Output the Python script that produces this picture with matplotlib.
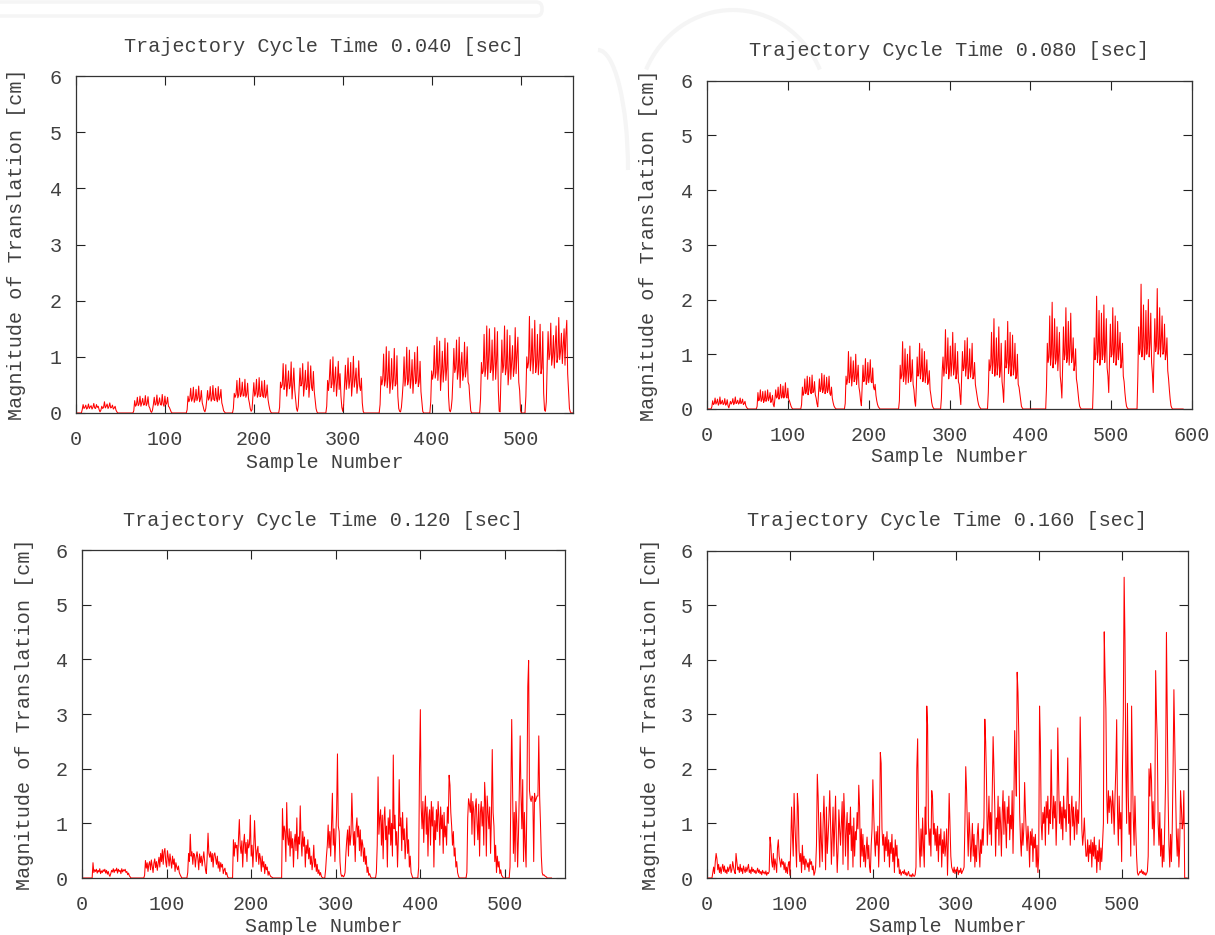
import numpy as np
import matplotlib
matplotlib.use("Agg")
import matplotlib.pyplot as plt
from matplotlib.patches import Arc, FancyBboxPatch

W, H = 1215, 935

TITLES = ["Trajectory Cycle Time 0.040 [sec]", "Trajectory Cycle Time 0.080 [sec]",
          "Trajectory Cycle Time 0.120 [sec]", "Trajectory Cycle Time 0.160 [sec]"]
XLABEL = "Sample Number"
YLABEL = "Magnitude of Translation [cm]"
Y_TICKS = [0, 1, 2, 3, 4, 5, 6]
X_TICKS = [[0, 100, 200, 300, 400, 500], [0, 100, 200, 300, 400, 500, 600],
           [0, 100, 200, 300, 400, 500], [0, 100, 200, 300, 400, 500]]
X_MAX = [559, 600, 571, 580]

# values in hundredths of cm; (first sample number, values)
P1_LEN = 560
P1_BURSTS = [
    (7, [6,15,8,10,14,7,9,16,8,11,13,7,10,17,9,8,15,10,12,6,2, 5,12,8,10,20,9,12,16,8,11,18,9,10,14,7,9,12,5,2]),
    (65, [4,22,12,15,28,13,16,30,12,18,26,14,15,31,13,17,29,12,9,3, 1,5, 15,28,14,16,32,13,18,27,15,14,33,16,12,30,15,17,28,12,10,6,2]),
    (125, [6,30,20,25,44,21,26,46,19,24,42,22,27,48,20,25,40,18,12,5, 2,8, 22,40,23,27,47,21,25,49,24,22,44,26,20,47,23,28,42,18,12,4,2]),
    (177, [8,35,28,33,58,27,32,62,29,34,55,30,31,60,28,33,53,26,18,8,3, 6, 30,54,30,35,60,28,33,63,29,31,57,30,28,58,27,32,50,24,14,6,2]),
    (229, [10,55,45,50,88,42,48,86,30,52,75,43,49,91,25,50,80,42,25,8, 3,12, 45,80,48,52,88,30,50,76,42,47,91,28,53,84,45,40,74,38,22,8,2]),
    (282, [12,58,40,62,95,45,52,100,38,60,82,30,55,92,42,70,30,10, 3,14, 50,85,42,60,98,44,58,90,30,55,101,46,60,80,35,52,93,48,40,62,18,3]),
    (342, [15,65,50,60,105,48,58,118,45,62,110,35,55,97,42,60,115,48,52,102,30,8, 3,2,10,30, 55,100,48,62,117,50,58,112,44,60,95,35,65,108,52,58,118,47,55,92,38,20,3]),
    (399, [20,75,60,70,120,62,72,135,58,85,128,40,70,110,55,78,133,58,80,125,30,5, 2,8,25, 65,115,72,80,130,60,75,135,45,85,108,58,70,126,64,80,118,55,50,25,4]),
    (455, [25,90,70,75,140,65,80,155,60,95,150,72,78,130,58,88,152,60,92,145,40,3, 2, 70,130,72,85,155,68,80,148,50,75,138,60,90,120,65,80,152,70,105,135,55,40,4]),
    (506, [30,100,80,90,172,75,95,150,70,100,165,72,85,140,68,95,158,70,80,145,35,5, 3,20, 90,145,95,105,160,85,100,138,80,120,155,90,100,170,95,110,142,88,120,150,85,140,165,70,40,8,2]),
]

P2_LEN = 590
P2_BURSTS = [
    (6, [4,15,8,10,20,9,12,18,7,10,22,9,12,16,8,10,19,7,9,17,6,2, 8,14,9,12,19,8,11,22,10,12,16,9,11,20,10,12,18,8,10,14,6,3,1]),
    (62, [5,30,15,18,35,14,17,32,12,16,33,14,18,35,15,20,30,12,16,25,8,4, 18,35,20,22,40,18,24,45,20,22,42,20,25,48,22,20,38,18,15,10,5,2]),
    (117, [8,40,25,30,55,28,32,60,26,35,58,30,28,62,30,32,50,26,20,10,4, 30,55,32,36,65,30,35,62,28,33,58,30,36,60,28,25,40,20,12,6,3,1]),
    (171, [10,60,45,55,105,48,58,95,42,60,88,50,55,100,45,60,80,40,30,15,6, 45,80,50,55,92,45,52,85,48,60,90,50,48,75,40,35,45,25,15,8,4,2]),
    (238, [15,80,55,62,123,50,60,110,45,70,100,48,65,115,50,60,90,45,35,15,5, 40,95,60,65,120,55,70,110,50,60,105,48,65,90,45,50,70,35,25,12,5,2]),
    (290, [20,70,95,60,75,145,65,80,130,55,70,115,60,85,140,62,75,120,55,65,105,50,45,25,8, 60,105,70,75,125,60,80,130,55,70,110,58,75,120,55,60,85,45,35,25,15,8,4,2]),
    (348, [30,90,70,80,140,65,85,165,60,75,130,62,80,150,58,70,120,50,35,12, 70,125,75,85,160,65,80,140,60,80,135,62,75,120,55,60,100,45,40,28,15,5,2]),
    (420, [40,120,85,95,170,80,100,195,75,95,165,82,90,150,70,100,140,60,45,20, 80,150,90,100,185,85,95,160,80,110,175,85,95,130,70,80,110,55,45,30,15,5,2]),
    (478, [50,130,90,100,206,85,105,180,80,95,175,90,100,190,85,110,165,75,60,30, 90,155,95,100,185,85,105,170,80,95,160,90,110,140,75,85,120,60,50,30,15,5,2]),
    (533, [60,150,100,110,228,95,115,190,90,105,180,100,115,200,95,120,175,85,65,30, 100,165,105,115,220,100,110,185,95,125,170,100,105,155,90,100,130,70,55,35,18,6,2]),
]

P3_LEN = 556
P3_BURSTS = [
    (13, [28,10,15,12,16,9,14,11,17,8,13,10,15,12,16,9,14,7,12,6,3, 8,14,11,17,10,15,13,18,9,16,12,14,8,17,11,15,13,16,10,12,6,9,4,2]),
    (74, [5,32,18,28,12,25,30,15,33,22,10,27,35,19,30,14,26,38,20,45,30,52,25,48,54,30,20, 50,38,22,44,30,18,40,25,35,12,28,20,15,22,10,6,3]),
    (125, [10,45,30,80,40,48,25,45,42,20,38,48,35,15,44,28,40,22,35,48,30,15,8, 40,82,45,38,48,30,45,20,42,46,35,25,40,18,30,12,28,20,25,8,15,18,6,10,3]),
    (179, [70,40,65,55,60,30,72,107,60,45,68,20,62,80,45,65,30,70,55,62,115,40,60,20,55,105,62,30,50,58,25,45,35,12,40,20,30,8,25,15,20,5,12,6,3,2,1]),
    (237, [127,70,95,85,30,138,75,60,90,40,85,55,72,20,65,80,50,110,35,75,62,132,70,40,85,58,75,20,60,45,70,35,55,25,40,15,30,60,20,35,12,25,8,15,5,10,3,1]),
    (288, [15,40,60,97,55,85,40,95,155,60,90,30,75,120,227,95,85,30,8,3,5,2,4,10,
           45,70,88,40,95,60,80,155,100,60,85,30,90,110,75,95,50,88,40,70,60,30,55,25,40,10,20,5,8,3]),
    (348, [10,60,185,80,110,125,60,115,35,105,130,70,95,20,110,80,125,60,100,40,225,90,115,60,85,20,75,180,95,110,50,120,70,90,35,65,110,45,70,20,40,10,5]),
    (398, [20,200,308,130,90,140,65,120,150,80,130,40,110,125,60,140,95,130,20,105,70,125,85,140,110,60,130,90,115,45,120,75,95,60,130,100,188,170,120,95,60,85,40,55,20,30,10,4]),
    (455, [10,110,145,135,120,155,80,140,125,60,130,145,100,70,135,40,120,140,95,130,60,175,140,40,150,120,90,130,45,110,235,120,95,30,60,10,40,20,30,8,15,5,3]),
    (506, [20,150,290,160,45,120,30,140,100,20,80,160,260,150,90,180,30,120,60,20,150,350,398,160,145,140,150,148,30,155,140,145,150,150,260,150,100,40,10,5,6,4,3,2]),
]

P4_LEN = 580
P4_BURSTS = [
    (7, [10,20,8,30,45,35,15,25,10,20,8,18,25,12,22,10,15,8,20,12,18,25,10,15,30,20,12,8,45,30,15,20,10,25,12,18,8,22,15,10,20,12,18,25,10,15,8,20,12,16,10,14,8,12,18,10,15,8,12,6,14,9,11,7,13,5,10,8,12]),
    (76, [75,60,30,20,45,15,35,25,10,55,70,40,30,20,35,25,30,15,28,10,20,8,25,30]),
    (100, [5,60,130,80,40,155,100,60,20,155,130,50,30,45,10,60,25,40,15,35,30,20,28,12,35,25,30,15,22,5,10]),
    (131, [20,60,190,150,80,20,120,65,30,100,150,90,15,130,45,75,110,160,100,25,80,130,40,95,150,70,10,50,125,90,60,100,140,25,155,110,40,90,120,15,100,80,130,50,95,20,110,40,85,70,120,90,170,130,20,90,
           40,80,30,60,20,50,75,35,60,20]),
    (197, [10,60,90,180,120,70,40,85,60,95,20,70,230,210,90,60,80,30,75,50,85,40,70,20,65,45,80,30,55,10,70,40,60,20,35,8,15,5]),
    (235, [10,12,8,15,6,10,4,8,12,5,3,6,2,8,4,3,6]),
    (252, [20,200,255,120,60,20,90,40,110,60,20,130,80,315,280,100,60,90,40,160,145,80,100,60,90,50,95,30,80,60,90,20,70,45,85,40]),
    (288, [60,90,5,70,155,100,40,20,15,10,20,8,15,12,20,6,14,10,18,8,12,15]),
    (310, [20,100,204,160,90,40,120,80,30,60,100,40,80,20,60,30,80,100,50,20,70,45,90,60]),
    (334, [110,291,250,180,60,100,150,80,120,60,160,259,200,130,40,110,90,150,60,130,100,40,120,160,80,140,95,55,130,100,150,70,115,90,160,45,130,270,200,150,377,340,260,120,70]),
    (379, [40,100,60,90,175,120,80,50,95,70,20,85,60,90,30,75,55,80,20,60,10,40,315,250,100]),
    (404, [70,120,100,130,60,140,110,150,80,125,100,235,130,90,150,110,140,60,120,275,180,100,140,90,130,70,150,110,125,85,140,220,100,135,60,120,150,95,130,70,110,140,80,125,100,150,295,200,90,60,80,110,70,40]),
    (458, [40,70,30,60,45,70,20,65,40,75,35,60,10,50,30,70,15,55,30,65]),
    (478, [100,451,370,310,150,100,160,120,150,140,100,160,130,80,150,200,290,120,60,150,90,120,30,200,300,551,435,200,100]),
    (507, [320,150,80,120,40,315,200,110,60,150,90,40,10,5]),
    (521, [8,12,10,15,8,12,6,10,5,8,12]),
    (532, [40,200,150,210,180,90,140,60,120,380,300,250,100,60,120,40,90,20,60,30,100,180,450,300,150,60,20,80,30]),
    (561, [90,200,345,250,160,80,40,90,20,60,160,130,90,100,160]),
]

PANELS = [(P1_LEN, P1_BURSTS), (P2_LEN, P2_BURSTS), (P3_LEN, P3_BURSTS), (P4_LEN, P4_BURSTS)]

# axes boxes in pixels: left, right, top, bottom
BOXES = [(76, 573, 76, 413), (707, 1192, 80.5, 409), (82, 565, 550, 878), (707, 1188, 550.5, 878)]
YLAB_X = [17, 648, 25, 650]
TITLE_Y = [46, 50, 521, 521]
XLAB_Y = [463, 457, 927, 927]

FONT = "Liberation Mono"
FS = 14.5
TXT = "#404040"
WM = "#f5f5f5"

fig = plt.figure(figsize=(W / 100, H / 100), dpi=100)

# very faint publisher watermark at the top (decorative background)
bg = fig.add_axes([0, 0, 1, 1], zorder=-5)
bg.set_xlim(0, W)
bg.set_ylim(H, 0)
bg.axis("off")
bg.add_patch(FancyBboxPatch((-20, 2), 562, 14, boxstyle="round,pad=0,rounding_size=6",
                            fill=False, ec=WM, lw=2.5))
bg.add_patch(Arc((598, 170), 60, 240, theta1=270, theta2=360, ec=WM, lw=3))
bg.add_patch(Arc((733, 110), 190, 200, theta1=205, theta2=335, ec=WM, lw=3))

for i in range(4):
    l, r, t, b = BOXES[i]
    ax = fig.add_axes([l / W, 1 - b / H, (r - l) / W, (b - t) / H])
    ax.patch.set_alpha(0)
    n, bursts = PANELS[i]
    y = np.zeros(n)
    for s, vals in bursts:
        y[s:s + len(vals)] = np.array(vals) / 100.0
    x = np.arange(n)
    ax.plot(x, y, color="#ff0000", lw=0.75, antialiased=True)
    ax.set_xlim(0, X_MAX[i])
    ax.set_ylim(0, 6)
    ax.set_xticks(X_TICKS[i])
    ax.set_yticks(Y_TICKS)
    ax.tick_params(direction="in", length=6.5, width=0.8, color="#222222",
                   top=True, right=True, labelsize=FS, labelcolor=TXT, pad=12)
    ax.tick_params(axis="y", pad=10)
    for lab in ax.get_xticklabels() + ax.get_yticklabels():
        lab.set_fontfamily(FONT)
    for sp in ax.spines.values():
        sp.set_linewidth(0.9)
        sp.set_color("#333333")
    cx = (l + r) / 2
    fig.text(cx / W, 1 - TITLE_Y[i] / H, TITLES[i], ha="center", va="center",
             fontsize=FS, family=FONT, color=TXT)
    fig.text(cx / W, 1 - XLAB_Y[i] / H, XLABEL, ha="center", va="center",
             fontsize=FS, family=FONT, color=TXT)
    fig.text(YLAB_X[i] / W, 1 - ((t + b) / 2) / H, YLABEL, ha="center", va="center",
             rotation=90, fontsize=FS, family=FONT, color=TXT)

fig.savefig("out.png", dpi=100)
